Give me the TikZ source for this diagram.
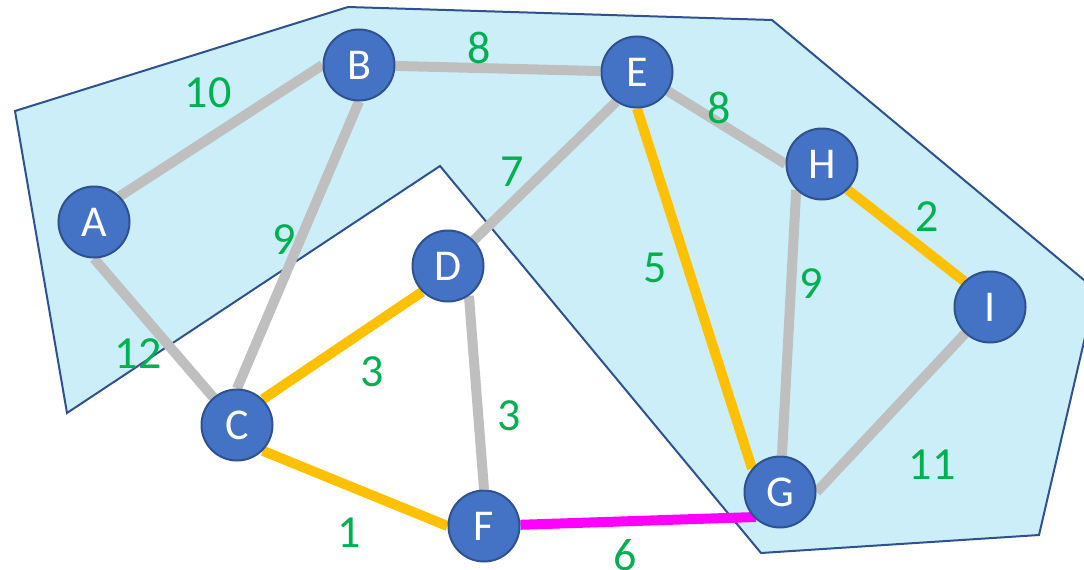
\documentclass[tikz,border=0pt]{standalone}
\usepackage{fontspec}
\setmainfont{Carlito}
\usetikzlibrary{backgrounds}

\definecolor{vfill}{HTML}{4472C4}
\definecolor{vline}{HTML}{2F528F}
\definecolor{cutfill}{HTML}{CCEEF9}
\definecolor{wgreen}{HTML}{00B050}
\definecolor{egrey}{HTML}{BFBFBF}
\definecolor{eorange}{HTML}{FFC000}
\definecolor{emagenta}{HTML}{FF00FF}

\begin{document}
\begin{tikzpicture}[x=1pt, y=-1pt,
    vertex/.style={circle, fill=vfill, draw=vline, line width=2pt, minimum size=71pt, inner sep=0pt, text=white, font=\fontsize{44}{44}\selectfont},
    weight/.style={text=wgreen, inner sep=0pt, font=\fontsize{46}{46}\selectfont},
    plain/.style={draw=egrey, line width=10pt},
    tree/.style={draw=eorange, line width=10pt},
    cross/.style={draw=emagenta, line width=10pt},
    cut/.style={fill=cutfill, draw=vline, line width=2pt}]
  \useasboundingbox (0,0) rectangle (1084,570);

  % vertices
  \node (A) [vertex] at (94,222) {A};
  \node (B) [vertex] at (359,65) {B};
  \node (E) [vertex] at (637,72) {E};
  \node (H) [vertex] at (822,164) {H};
  \node (I) [vertex] at (990,307) {I};
  \node (D) [vertex] at (448,266) {D};
  \node (C) [vertex] at (237,425) {C};
  \node (F) [vertex] at (484,526) {F};
  \node (G) [vertex] at (780,492) {G};
  \coordinate (FG) at (756,517);

  % weights
  \node [weight] at (208,93) {10};
  \node [weight] at (479,48) {8};
  \node [weight] at (719,108) {8};
  \node [weight] at (512,172) {7};
  \node [weight] at (284,240) {9};
  \node [weight] at (655,268) {5};
  \node [weight] at (811,284) {9};
  \node [weight] at (927,217) {2};
  \node [weight] at (138,354) {12};
  \node [weight] at (372,372) {3};
  \node [weight] at (509,416) {3};
  \node [weight] at (932,465) {11};
  \node [weight] at (349,533) {1};
  \node [weight] at (625,555) {6};

  \begin{scope}[on background layer]
    % the cut
    \draw [cut] (15,111) -- (348,7) -- (772,20) -- (1096,290) -- (1039,535)
      -- (761,553) -- (440,166) -- (67,413) -- cycle;
    % edges
    \draw [plain] (A.north east) -- (B.west);
    \draw [plain] (B) -- (E);
    \draw [plain] (A.south) -- (C);
    \draw [plain] (B.south) -- (C.north);
    \draw [plain] (D.north east) -- (E.-125);
    \draw [plain] (E) -- (H.west);
    \draw [plain] (D.-55) -- (F.north);
    \draw [plain] (H.225) -- (G);
    \draw [plain] (G.east) -- (I);
    \draw [tree] (C.north east) -- (D.south west);
    \draw [tree] (C.south east) -- (F.west);
    \draw [tree] (E.south) -- (G.140);
    \draw [tree] (H.-45) -- (I.135);
    \draw [cross] (F) -- (FG);
  \end{scope}
\end{tikzpicture}
\end{document}
